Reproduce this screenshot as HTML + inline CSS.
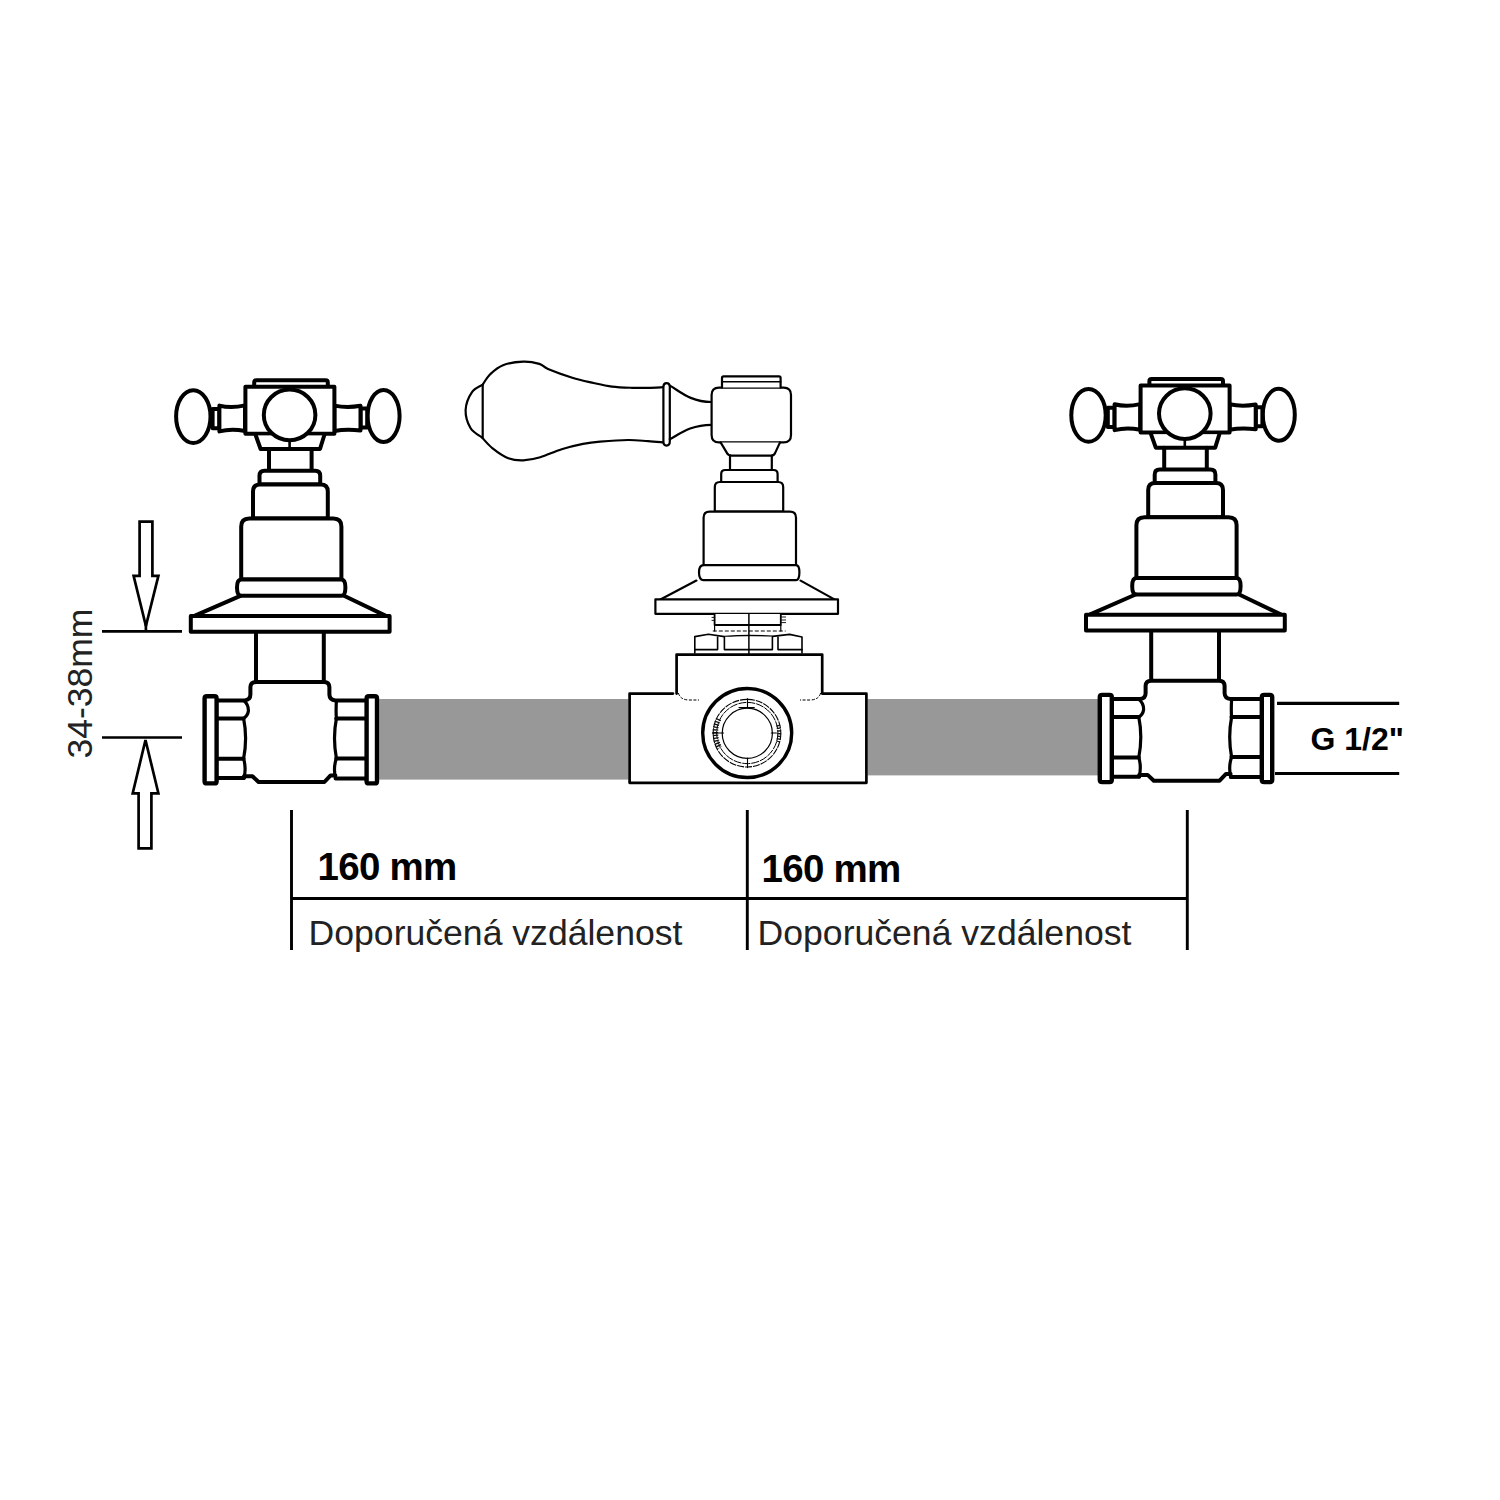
<!DOCTYPE html>
<html><head><meta charset="utf-8"><title>diagram</title>
<style>
html,body{margin:0;padding:0;background:#fff;}
svg{display:block;}
.t{font-family:"Liberation Sans",sans-serif;}
</style></head>
<body>
<svg width="1500" height="1500" viewBox="0 0 1500 1500">
<rect width="1500" height="1500" fill="#fff"/>
<rect x="379.2" y="699" width="249.2" height="80.6" fill="#989898"/>
<rect x="867.6" y="699" width="231.6" height="76.4" fill="#989898"/>
<g fill="#fff" stroke="#000" stroke-width="4" stroke-linejoin="round" stroke-linecap="round">
<g id="cv">
<ellipse cx="193.3" cy="416.6" rx="17.2" ry="26.4"/>
<ellipse cx="383.6" cy="416" rx="16" ry="26"/>
<path d="M212.6 409 H219.4 V428.2 H212.6 Z"/>
<path d="M219.4 405.6 Q231 408.6 245 405.4 V431 Q231 428.4 219.4 431.4 Z"/>
<path d="M360.5 408.5 H367.2 V427.6 H360.5 Z"/>
<path d="M334.4 405.6 Q347 408.2 360.5 405.8 V430.6 Q347 428.6 334.4 431 Z"/>
<path d="M254.2 387 V382.4 Q254.2 380.2 256.4 380.2 H325.6 Q327.8 380.2 327.8 382.4 V387" stroke-width="4"/>
<path d="M245.4 386.8 H334.4 V433.8 H245.4 Z"/>
<path d="M255.8 435.5 L260.6 449 H320 L324.2 435.5"/>
<path d="M289.6 440 V449" stroke-width="2.6"/>
<ellipse cx="289.6" cy="414.9" rx="25.8" ry="25.3"/>
<path d="M269 449 V470.8 M311.6 449 V470.8"/>
<path d="M259.5 484.4 V475.8 Q259.5 470.8 264.5 470.8 H315.2 Q320.2 470.8 320.2 475.8 V484.4 Z"/>
<path d="M253 518.6 V491.4 Q253 484.4 260 484.4 H320.8 Q327.8 484.4 327.8 491.4 V518.6 Z"/>
<path d="M241.2 579.4 V526.6 Q241.2 518.6 249.2 518.6 H333.4 Q341.4 518.6 341.4 526.6 V579.4 Z"/>
<path d="M241.2 579.4 Q237 579.4 237 587.5 Q237 595.8 241.2 595.8 H341.4 Q345.4 595.8 345.4 587.5 Q345.4 579.4 341.4 579.4 Z"/>
<path d="M240.4 595.8 L195 615.6 M344 595.8 L385.4 615.6"/>
<path d="M190.8 616 H389.6 V631.8 H190.8 Z"/>
<path d="M256 633 V682 M323.8 633 V682"/>
<path d="M218.4 700.4 H244.6 Q250.4 700 250.4 694.6 V687.2 Q250.6 682 256 682 H324 Q329.2 682 329.4 687.2 V694.6 Q329.6 700 335.4 700.4 H365"/>
<path d="M244 776.2 H252.4 L258.6 782 H324.4 L330.6 775.4 H335.4"/>
<path d="M218.4 718.4 H243.6 M218.4 758.8 H243.6 M218.4 778 H244"/>
<path d="M243.6 700.6 Q248.6 704.6 248.4 711 Q247.8 715.6 243.6 718.4 Q247.6 738 243.6 758.8 Q246.4 768 244 778" stroke-width="3.2"/>
<path d="M336.2 718.4 H365 M336.2 758.4 H365 M335.6 778.4 H365"/>
<path d="M336.4 700.6 Q335.8 712 336.4 718.4 Q332.6 738 336.4 758.4 Q333 768 335.6 778.4" stroke-width="3.2"/>
<path d="M207 696.2 H214.4 Q216.6 696.2 216.6 698.4 V781.4 Q216.6 783.4 214.4 783.4 H207 Q204.6 783.4 204.6 781.4 V698.4 Q204.6 696.2 207 696.2 Z" stroke-width="4.4"/>
<path d="M369 696.2 H374.6 Q377 696.2 377 698.4 V781.4 Q377 783.4 374.6 783.4 H369 Q366.6 783.4 366.6 781.4 V698.4 Q366.6 696.2 369 696.2 Z" stroke-width="4.4"/>
</g>
<use href="#cv" transform="translate(895.2,-1.3)"/>
</g>
<g fill="#fff" stroke="#000" stroke-width="2.2" stroke-linejoin="round" stroke-linecap="round">
<path d="M482.7 384.6C483.9 382.9 486.8 377.4 490.2 374.2C493.6 371 497.5 367.3 503 365.2C508.5 363.1 517.2 361.9 523.3 361.7C529.3 361.5 535.2 362.7 539.3 363.9C543.4 365.1 542.5 366.6 548 368.9C553.5 371.2 564.7 375.3 572.3 377.7C579.9 380.1 587.1 381.5 593.7 383C600.3 384.5 605.6 385.8 612 386.6C618.4 387.4 626 387.6 632 387.8C638 388 642.7 387.9 648 387.8C653.3 387.7 661 387.3 663.6 387.2"/>
<path d="M481.8 437.3C483.6 439.1 487.9 444.6 492.3 448.1C496.7 451.6 503.1 456.2 508.3 458.2C513.5 460.2 518 460.5 523.3 460.3C528.6 460.1 533.9 459.1 540.3 457.2C546.7 455.3 554.6 451.4 561.7 449.2C568.8 447 576.6 445.2 583 443.9C589.4 442.6 592.5 442.2 600 441.6C607.5 441 620 440.1 628 440C636 439.9 642.1 440.8 648 441.2C653.9 441.6 661 442.2 663.6 442.4"/>
<path d="M482.7 384.6C480.9 385.8 474.9 387.8 472 392C469.1 396.2 465.9 404 465.6 410C465.4 416 467.8 423.4 470.5 428C473.2 432.6 479.9 435.8 481.8 437.3"/>
<path d="M482.7 384.6 V437.3"/>
<path d="M666.5 383.2 Q669.8 383.2 669.8 387 V441.6 Q669.8 445.6 666.5 445.6 Q663.4 445.6 663.4 441.6 V387 Q663.4 383.2 666.5 383.2 Z"/>
<path d="M669.8 385.6 C679 390.5 690 402 711.6 402 M669.8 439.2 C679 434.5 690 424.8 711.6 424.8"/>
<path d="M719 387.6 H783.6 Q791 387.6 791 395 V435 Q791 442.4 783.6 442.4 H719 Q711.6 442.4 711.6 435 V395 Q711.6 387.6 719 387.6 Z"/>
<path d="M722 387.6 V378 Q722 376.4 723.6 376.4 H779 Q780.6 376.4 780.6 378 V387.6"/>
<path d="M722 381.8 H780.6" stroke-width="1.6"/>
<path d="M720.6 442.4 L726.6 452.4 Q728.2 455.6 731.6 455.6 H771.6 Q774.2 455.6 775.4 452.4 L780 442.4"/>
<path d="M730 455.6 V470 M771.8 455.6 V470"/>
<path d="M721.2 482 V474 Q721.2 470 725.2 470 H773.6 Q777.6 470 777.6 474 V482 Z"/>
<path d="M714.8 511.6 V487 Q714.8 482 719.8 482 H778.2 Q783.2 482 783.2 487 V511.6 Z"/>
<path d="M703.6 565.2 V517.6 Q703.6 511.6 709.6 511.6 H790 Q796 511.6 796 517.6 V565.2 Z"/>
<path d="M703.6 565.2 Q699 565.2 699 572.5 Q699 580.2 703.6 580.2 H796 Q799.4 580.2 799.4 572.5 Q799.4 565.2 796 565.2 Z"/>
<path d="M696.4 580.6 L660.4 599.4 M800.6 580.6 L834.4 599.4"/>
<path d="M655.4 599.4 H838 V613.8 H655.4 Z"/>
<path d="M714.6 614 V625 H780.8 V614" stroke-width="1.8"/>
<path d="M712.8 631 H785.6" stroke-width="1.3" stroke="#555" stroke-dasharray="4 2" stroke-linecap="butt"/>
<path d="M714.6 625 V631 M780.8 625 V631" stroke-width="1.2"/>
<path d="M694.8 653 V636.6 L708.4 634.2 L724.4 636.6 Q748.8 634.4 772.4 636.4 L789.6 634.4 L802 637 V653" stroke-width="1.6"/>
<path d="M694.8 649.6 H717.6 V637 M724.4 636.8 V649.6 H772.4 V636.6 M778 637 V649.6 H802" stroke-width="1.6"/>
<path d="M781.6 617 H785.6 M781.6 620 H785.6 M781.6 622.6 H785.6 M712 617.4 H714 M712 620.4 H714" stroke-width="0.9"/>
<path d="M748.9 614 V654" stroke-width="1.5"/>
<path d="M676.6 693.6 V654.6 H822.2 V693.6 H866.4 V782.8 H629.6 V693.6 H673" stroke-width="2.7"/>
<path d="M678.4 693 Q680 699.6 688.6 700 H699 M820.6 693 Q819 699.6 810.4 700 H800" stroke-width="1" stroke-dasharray="3 1.5" stroke-linecap="butt"/>
<circle cx="747.2" cy="733" r="44.5" stroke-width="3.4"/>
<circle cx="747" cy="733.2" r="33.8" stroke-width="1.1" stroke-dasharray="7 1" stroke-linecap="butt" fill="none"/>
<circle cx="747.3" cy="733" r="30.6" stroke-width="1" stroke-dasharray="8 1" stroke-linecap="butt" fill="none"/>
<circle cx="747.3" cy="733.3" r="25.1" stroke-width="1.2" fill="none"/>
<path d="M718.6 719 A30.5 30.5 0 0 0 719.6 748" fill="none" stroke="#111" stroke-width="5.5" stroke-dasharray="1.3 1.4" stroke-linecap="butt"/>
<path d="M778 725 A31 31 0 0 1 778 742" fill="none" stroke="#111" stroke-width="4" stroke-dasharray="1.3 1.4" stroke-linecap="butt"/>
<path d="M747.5 698.5 V708 M747.5 758 V767.6 M712.4 733 H723.6 M771.3 733 H776.4 M739 707.6 H754.3" stroke-width="1.1"/>
</g>
<g fill="none" stroke="#000" stroke-width="2.7">
<path d="M139.6 521.6 H152.4 V575.8 H158.4 L145.9 626 L133.6 575.8 H139.6 Z" stroke-linejoin="miter"/>
<path d="M145.9 624 V631"/>
<path d="M102 631.4 H182 M102 737.5 H182"/>
<path d="M138.6 848.4 H151.4 V793.3 H158.4 L145.5 740 L132.7 793.3 H138.6 Z" stroke-linejoin="miter"/>
<path d="M291.5 810 V950 M747.3 810 V950 M1187.3 810 V950 M291.5 898.5 H1187.3" stroke-width="2.9"/>
<path d="M1277 703.3 H1399.2 M1275 773.5 H1399.2" stroke-width="3.2"/>
</g>
<g class="t">
<text x="92" y="758.6" transform="rotate(-90 92 758.6)" font-size="35.5" fill="#222" style="font-family:'Liberation Sans',sans-serif">34-38mm</text>
<text x="317.6" y="880" font-size="38.5" letter-spacing="-0.75" font-weight="bold" fill="#000" style="font-family:'Liberation Sans',sans-serif">160 mm</text>
<text x="761.6" y="881.8" font-size="38.5" letter-spacing="-0.75" font-weight="bold" fill="#000" style="font-family:'Liberation Sans',sans-serif">160 mm</text>
<text x="308.6" y="944.6" font-size="35.6" fill="#222" style="font-family:'Liberation Sans',sans-serif">Doporučená vzdálenost</text>
<text x="757.6" y="944.6" font-size="35.6" fill="#222" style="font-family:'Liberation Sans',sans-serif">Doporučená vzdálenost</text>
<text x="1310.5" y="749.7" font-size="32" font-weight="bold" fill="#000" style="font-family:'Liberation Sans',sans-serif">G 1/2"</text>
</g>
</svg>
</body></html>
